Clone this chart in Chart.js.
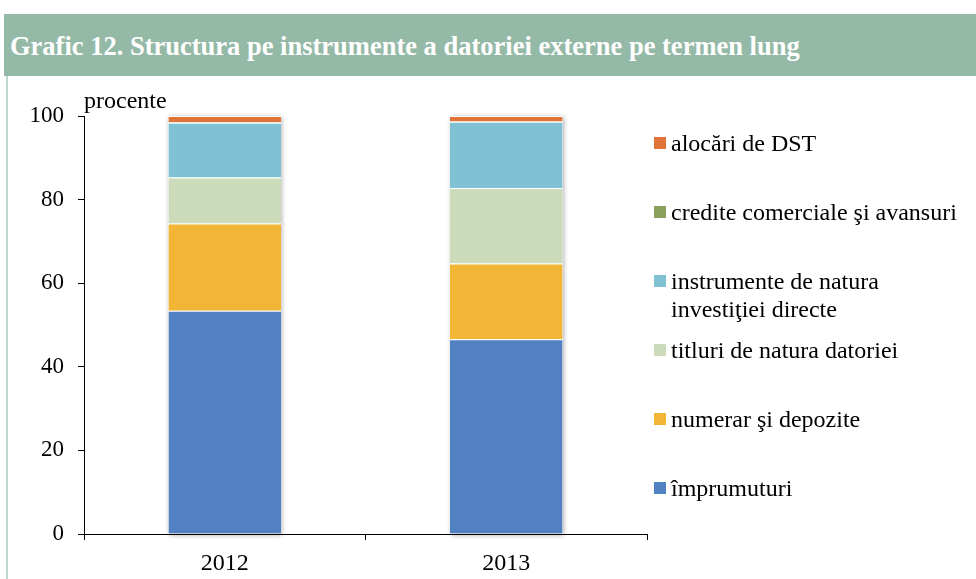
<!DOCTYPE html>
<html>
<head>
<meta charset="utf-8">
<script src="https://cdn.jsdelivr.net/npm/chart.js@4.4.1/dist/chart.umd.min.js"></script>
<style>
  body { margin: 0; background: #fff; font-family: "Liberation Serif", "Times New Roman", serif; }
  #wrap { position: relative; width: 976px; height: 579px; overflow: hidden; }
  #myChart { position: absolute; left: 0; top: 0; }
  #title { position: absolute; left: 4px; top: 14px; width: 972px; height: 62px; background: #95b9a7;
           color: #fff; font-weight: bold; font-size: 26.5px; line-height: 64px; padding-left: 6px; box-sizing: border-box; white-space: nowrap; }
  #sideLine { position: absolute; left: 6px; top: 76px; width: 2px; height: 503px; background: #bcd6cf; }
  #unit { position: absolute; left: 84px; top: 86px; font-size: 24px; line-height: 28px; }
  .legItem { position: absolute; left: 654px; font-size: 24px; line-height: 28px; color: #000; }
  .legItem span.box { position: absolute; left: 0; top: 8px; width: 12px; height: 12px; }
  .legItem span.txt { display: block; margin-left: 17px; white-space: nowrap; }
</style>
</head>
<body>
<div id="wrap">
  <canvas id="myChart" width="976" height="579"></canvas>
  <div id="title">Grafic 12. Structura pe instrumente a datoriei externe pe termen lung</div>
  <div id="sideLine"></div>
  <div id="unit">procente</div>
  <div id="legend"></div>
</div>
<script>
const years = ['2012', '2013'];
const imprumuturi = [53.4, 46.6];
const numerar = [20.9, 18.1];
const titluri = [11.0, 18.1];
const instrumente = [13.1, 15.8];
const credite = [0.1, 0.1];
const alocari = [1.5, 1.3];

const seriesNames = ['împrumuturi', 'numerar şi depozite', 'titluri de natura datoriei',
  'instrumente de natura investiţiei directe', 'credite comerciale şi avansuri', 'alocări de DST'];
const seriesColors = ['#5181c3', '#f2b536', '#ccdbb9', '#80c1d3', '#8a9f5b', '#e07337'];
const seriesData = [imprumuturi, numerar, titluri, instrumente, credite, alocari];

const datasets = seriesNames.map((name, i) => ({
  label: name,
  data: seriesData[i],
  backgroundColor: seriesColors[i],
  borderColor: '#ffffff',
  borderWidth: { top: 1, left: 0, right: 0, bottom: 0 },
  borderSkipped: false,
  categoryPercentage: 1,
  barPercentage: 0.4
}));

const serif = "'Liberation Serif', 'Times New Roman', serif";

// soft shadow behind each whole stack
const stackShadow = {
  id: 'stackShadow',
  beforeDatasetsDraw(chart) {
    const ctx = chart.ctx;
    const first = chart.getDatasetMeta(0).data;
    const last = chart.getDatasetMeta(chart.data.datasets.length - 1).data;
    ctx.save();
    ctx.shadowColor = 'rgba(0,0,0,0.35)';
    ctx.shadowBlur = 5;
    ctx.shadowOffsetX = 1;
    ctx.shadowOffsetY = 1;
    ctx.fillStyle = '#fff';
    first.forEach((bar, j) => {
      const top = last[j].y;
      const bottom = bar.base;
      ctx.fillRect(bar.x - bar.width / 2, top, bar.width, bottom - top);
    });
    ctx.restore();
  }
};

new Chart(document.getElementById('myChart'), {
  type: 'bar',
  data: { labels: years, datasets: datasets },
  plugins: [stackShadow],
  options: {
    responsive: false,
    animation: false,
    layout: { padding: { top: 116, right: 329, left: 0, bottom: 0 } },
    plugins: { legend: { display: false }, tooltip: { enabled: false } },
    scales: {
      x: {
        stacked: true,
        grid: { drawOnChartArea: false, tickLength: 6, color: '#000', offset: true },
        border: { color: '#000', width: 1 },
        ticks: { color: '#000', font: { family: serif, size: 24 }, padding: 9 },
        afterFit: s => { s.height = 45; }
      },
      y: {
        stacked: true,
        min: 0, max: 100,
        grid: { drawOnChartArea: false, tickLength: 6, color: '#000' },
        border: { color: '#000', width: 1 },
        ticks: { stepSize: 20, color: '#000', font: { family: serif, size: 23 }, padding: 14 },
        afterFit: s => { s.width = 84; }
      }
    }
  }
});

// legend, top series first
const legend = document.getElementById('legend');
for (let i = seriesNames.length - 1, k = 0; i >= 0; i--, k++) {
  const item = document.createElement('div');
  item.className = 'legItem';
  item.style.top = (143 + k * 69 - 14) + 'px';
  const box = document.createElement('span');
  box.className = 'box';
  box.style.background = seriesColors[i];
  const txt = document.createElement('span');
  txt.className = 'txt';
  txt.innerHTML = seriesNames[i] === 'instrumente de natura investiţiei directe'
    ? 'instrumente de natura<br>investiţiei directe' : seriesNames[i];
  item.append(box, txt);
  legend.appendChild(item);
}
</script>
</body>
</html>
